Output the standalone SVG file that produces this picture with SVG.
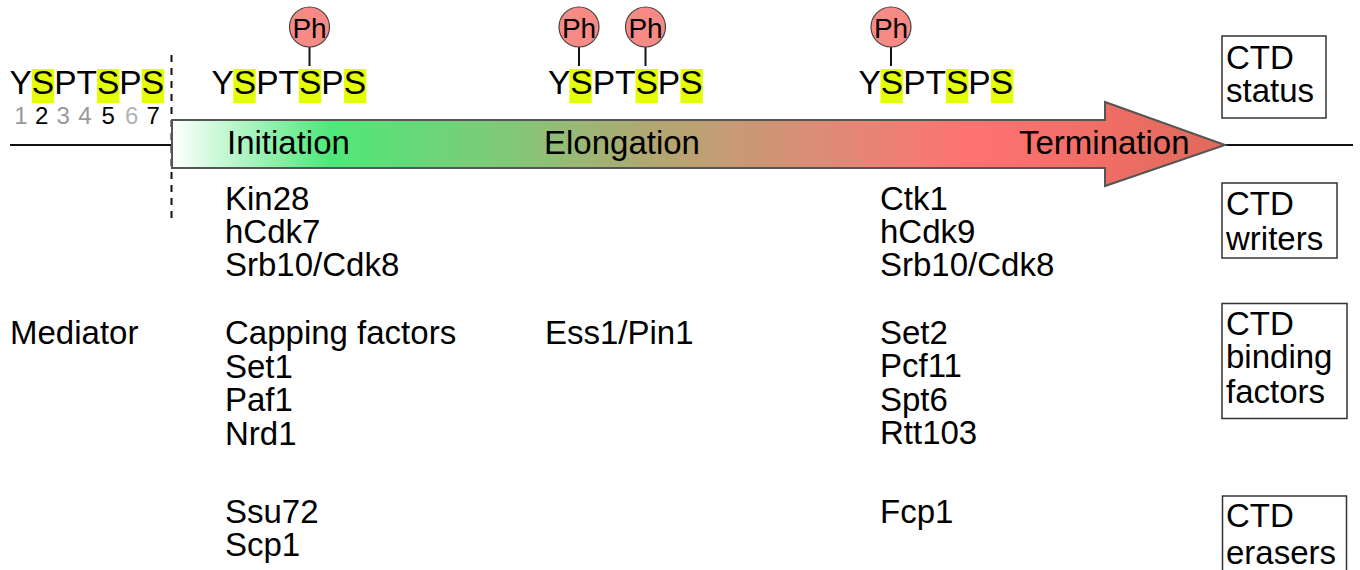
<svg xmlns="http://www.w3.org/2000/svg" width="1360" height="570" viewBox="0 0 1360 570">
<style>
text{font-family:"Liberation Sans",Arial,Helvetica,sans-serif;fill:#000}
.t{font-size:33px}
.seq{font-size:33.5px}
.num{font-size:24px;text-anchor:middle}
.hl{fill:#e4ff00}
.ph circle{fill:#f88a86;stroke:#444;stroke-width:1.2}
.ph line{stroke:#111;stroke-width:2}
.ph text{font-size:28px;text-anchor:middle}
.box{fill:#fff;stroke:#333;stroke-width:1.5}
.g{fill:#999}
</style>
<defs>
<linearGradient id="grad" gradientUnits="userSpaceOnUse" x1="172" y1="0" x2="1225" y2="0">
<stop offset="0" stop-color="#ffffff"/>
<stop offset="0.15" stop-color="#4ee87a"/>
<stop offset="0.32" stop-color="#82c878"/>
<stop offset="0.45" stop-color="#b0a872"/>
<stop offset="0.6" stop-color="#d88f76"/>
<stop offset="0.76" stop-color="#ff7272"/>
<stop offset="1" stop-color="#e06a5a"/>
</linearGradient>
</defs>
<rect width="1360" height="570" fill="#fff"/>

<g id="connectors">
<line x1="10" y1="145" x2="172" y2="145" stroke="#111" stroke-width="2"/>
<line x1="1225" y1="145" x2="1353" y2="145" stroke="#111" stroke-width="2"/>
<line x1="171.5" y1="55" x2="171.5" y2="220" stroke="#111" stroke-width="2" stroke-dasharray="7,6"/>
</g>

<g id="arrow">
<path d="M172,120 L1105,120 L1105,102 L1225,145 L1105,186 L1105,168 L172,168 Z" fill="url(#grad)" stroke="#555" stroke-width="2"/>
<text class="t" x="227" y="154">Initiation</text>
<text class="t" x="544" y="154">Elongation</text>
<text class="t" x="1019" y="154">Termination</text>
</g>

<g id="seq0">
<rect class="hl" x="31.8" y="69" width="22.4" height="34"/>
<rect class="hl" x="97" y="69" width="22.4" height="34"/>
<rect class="hl" x="141.7" y="69" width="22.4" height="34"/>
<text class="seq" x="9.5" y="94">YSPTSPS</text>
<text class="num g" x="21" y="124">1</text>
<text class="num" x="41.7" y="124">2</text>
<text class="num g" x="63.3" y="124">3</text>
<text class="num g" x="85" y="124">4</text>
<text class="num" x="108.3" y="124">5</text>
<text class="num" x="131.7" y="124" style="fill:#b3b3b3">6</text>
<text class="num" x="153.3" y="124">7</text>
</g>

<g id="seq1">
<rect class="hl" x="233.3" y="69" width="22.4" height="34"/>
<rect class="hl" x="298.8" y="69" width="22.4" height="34"/>
<rect class="hl" x="344" y="69" width="22.4" height="34"/>
<text class="seq" x="211.5" y="94">YSPTSPS</text>
<g class="ph"><line x1="309.5" y1="47" x2="309.5" y2="66"/><circle cx="309.5" cy="27" r="20"/><text x="309.5" y="37.5">Ph</text></g>
</g>

<g id="seq2">
<rect class="hl" x="569.3" y="69" width="22.4" height="34"/>
<rect class="hl" x="635.5" y="69" width="22.4" height="34"/>
<rect class="hl" x="680.5" y="69" width="22.4" height="34"/>
<text class="seq" x="548" y="94">YSPTSPS</text>
<g class="ph"><line x1="579" y1="47" x2="579" y2="66"/><circle cx="579" cy="27" r="20"/><text x="579" y="37.5">Ph</text></g>
<g class="ph"><line x1="645.5" y1="47" x2="645.5" y2="66"/><circle cx="645.5" cy="27" r="20"/><text x="645.5" y="37.5">Ph</text></g>
</g>

<g id="seq3">
<rect class="hl" x="880.5" y="69" width="22.4" height="34"/>
<rect class="hl" x="946" y="69" width="22.4" height="34"/>
<rect class="hl" x="991" y="69" width="22.4" height="34"/>
<text class="seq" x="858.5" y="94">YSPTSPS</text>
<g class="ph"><line x1="891" y1="47" x2="891" y2="66"/><circle cx="891" cy="27" r="20"/><text x="891" y="37.5">Ph</text></g>
</g>

<g id="writers-init">
<text class="t" x="225" y="209.5">Kin28</text>
<text class="t" x="225" y="242.8">hCdk7</text>
<text class="t" x="225" y="276">Srb10/Cdk8</text>
</g>
<g id="writers-term">
<text class="t" x="880" y="209.5">Ctk1</text>
<text class="t" x="880" y="242.8">hCdk9</text>
<text class="t" x="880" y="276">Srb10/Cdk8</text>
</g>

<g id="binding-pre">
<text class="t" x="10" y="344">Mediator</text>
</g>
<g id="binding-init">
<text class="t" x="225" y="344">Capping factors</text>
<text class="t" x="225" y="377.5">Set1</text>
<text class="t" x="225" y="411">Paf1</text>
<text class="t" x="225" y="445">Nrd1</text>
</g>
<g id="binding-elong">
<text class="t" x="545" y="344">Ess1/Pin1</text>
</g>
<g id="binding-term">
<text class="t" x="880" y="343.5">Set2</text>
<text class="t" x="880" y="377">Pcf11</text>
<text class="t" x="880" y="410.5">Spt6</text>
<text class="t" x="880" y="444">Rtt103</text>
</g>

<g id="erasers-init">
<text class="t" x="225" y="523">Ssu72</text>
<text class="t" x="225" y="556">Scp1</text>
</g>
<g id="erasers-term">
<text class="t" x="880" y="523">Fcp1</text>
</g>

<g id="box-status">
<rect class="box" x="1222" y="36" width="104" height="82"/>
<text class="t" x="1226" y="68.5">CTD</text>
<text class="t" x="1226" y="101.5">status</text>
</g>
<g id="box-writers">
<rect class="box" x="1222" y="183" width="115" height="75"/>
<text class="t" x="1226" y="215">CTD</text>
<text class="t" x="1226" y="250">writers</text>
</g>
<g id="box-binding">
<rect class="box" x="1222" y="303.5" width="125" height="115"/>
<text class="t" x="1226" y="335">CTD</text>
<text class="t" x="1226" y="368">binding</text>
<text class="t" x="1226" y="403">factors</text>
</g>
<g id="box-erasers">
<rect class="box" x="1222.5" y="496" width="124" height="90"/>
<text class="t" x="1226" y="527">CTD</text>
<text class="t" x="1226" y="564">erasers</text>
</g>
</svg>
